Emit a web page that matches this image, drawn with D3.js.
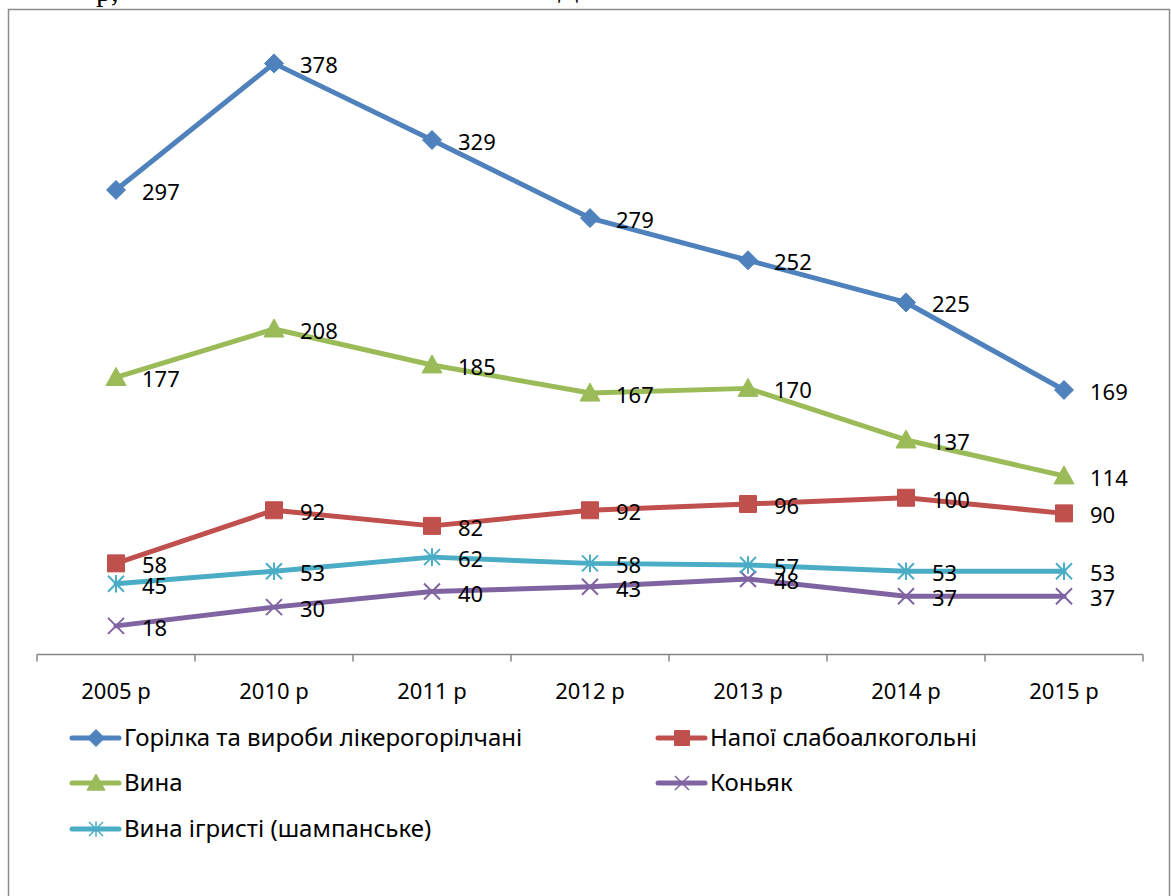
<!DOCTYPE html>
<html>
<head>
<meta charset="utf-8">
<script src="https://cdn.jsdelivr.net/npm/d3@7/dist/d3.min.js"></script>
<style>
  html, body { margin: 0; padding: 0; background: #fff; }
  svg { display: block; }
  text { font-family: "Noto Sans", "DejaVu Sans", sans-serif; fill: #000; }
</style>
</head>
<body>
<svg id="chart" width="1171" height="896"></svg>
<script>
// Categories (years) and series values
const years = ["2005 р", "2010 р", "2011 р", "2012 р", "2013 р", "2014 р", "2015 р"];
const vodka = [297, 378, 329, 279, 252, 225, 169];
const lowAlcohol = [58, 92, 82, 92, 96, 100, 90];
const wine = [177, 208, 185, 167, 170, 137, 114];
const cognac = [18, 30, 40, 43, 48, 37, 37];
const sparkling = [45, 53, 62, 58, 57, 53, 53];

const seriesNames = [
  "Горілка та вироби лікерогорілчані",
  "Напої слабоалкогольні",
  "Вина",
  "Коньяк",
  "Вина ігристі (шампанське)"
];

const series = [
  { name: seriesNames[0], values: vodka, color: "#4F81BD", marker: "diamond" },
  { name: seriesNames[1], values: lowAlcohol, color: "#C0504D", marker: "square" },
  { name: seriesNames[2], values: wine, color: "#9BBB59", marker: "triangle" },
  { name: seriesNames[3], values: cognac, color: "#8064A2", marker: "x" },
  { name: seriesNames[4], values: sparkling, color: "#4BACC6", marker: "star" }
];

const svg = d3.select("#chart");

// clipped line of document text above the chart frame
svg.append("text").attr("x", 96).attr("y", 1)
  .style("font-family", "'Liberation Serif', serif").style("font-size", "30px")
  .text("р,");
svg.append("text").attr("x", 558).attr("y", -3)
  .style("font-family", "'Liberation Serif', serif").style("font-size", "30px")
  .text("Д");

// outer frame
svg.append("rect").attr("x", 8.5).attr("y", 9.5).attr("width", 1161).attr("height", 900)
  .attr("fill", "none").attr("stroke", "#8c8c8c").attr("stroke-width", 1.5);

const x = d3.scaleBand().domain(years).range([37, 1143]).paddingInner(0).paddingOuter(0);
const y = d3.scaleLinear().domain([0, 400]).range([654, 29]);
const cx = d => x(d) + x.bandwidth() / 2;

// category axis
const axisG = svg.append("g").attr("transform", "translate(0,654.5)");
axisG.append("line").attr("x1", 37).attr("x2", 1143).attr("stroke", "#868686").attr("stroke-width", 1.5);
const tickXs = years.map(d => x(d)).concat([1143]);
axisG.selectAll("line.tick").data(tickXs).enter().append("line")
  .attr("class", "tick")
  .attr("x1", d => d).attr("x2", d => d).attr("y1", 0).attr("y2", 7)
  .attr("stroke", "#868686").attr("stroke-width", 1.5);
axisG.selectAll("text.cat").data(years).enter().append("text")
  .attr("class", "cat")
  .attr("x", d => cx(d)).attr("y", 44)
  .attr("text-anchor", "middle").style("font-size", "22px")
  .text(d => d);

function markerPath(type, s) {
  const h = s / 2;
  switch (type) {
    case "diamond": return `M0,${-h}L${h},0L0,${h}L${-h},0Z`;
    case "square": return `M${-h},${-h}H${h}V${h}H${-h}Z`;
    case "triangle": return `M0,${-h}L${h},${h * 0.8}L${-h},${h * 0.8}Z`;
    case "x": return `M${-h},${-h}L${h},${h}M${-h},${h}L${h},${-h}`;
    case "star": return `M${-h},${-h}L${h},${h}M${-h},${h}L${h},${-h}M0,${-h * 1.1}V${h * 1.1}`;
  }
}
const markerSize = { diamond: 19, square: 17, triangle: 20, x: 16, star: 16 };
const stroked = t => t === "x" || t === "star";

const line = d3.line().x((d, i) => cx(years[i])).y(d => y(d));

// lines
series.forEach(s => {
  svg.append("path").datum(s.values)
    .attr("d", line).attr("fill", "none")
    .attr("stroke", s.color).attr("stroke-width", 5)
    .attr("stroke-linejoin", "round").attr("stroke-linecap", "round");
});

// markers
series.forEach(s => {
  svg.append("g").selectAll("path").data(s.values).enter().append("path")
    .attr("transform", (d, i) => `translate(${cx(years[i])},${y(d)})`)
    .attr("d", markerPath(s.marker, markerSize[s.marker]))
    .attr("fill", stroked(s.marker) ? "none" : s.color)
    .attr("stroke", s.color)
    .attr("stroke-width", stroked(s.marker) ? 2 : 1);
});

// data labels
series.forEach(s => {
  svg.append("g").selectAll("text").data(s.values).enter().append("text")
    .attr("x", (d, i) => cx(years[i]) + 26)
    .attr("y", d => y(d) + 10)
    .style("font-size", "22px")
    .text(d => d);
});

// legend
const legendItems = [
  { s: series[0], lx: 72, ly: 738 },
  { s: series[1], lx: 658, ly: 738 },
  { s: series[2], lx: 72, ly: 783 },
  { s: series[3], lx: 658, ly: 783 },
  { s: series[4], lx: 72, ly: 829 }
];
const lg = svg.append("g");
legendItems.forEach(it => {
  const g = lg.append("g").attr("transform", `translate(${it.lx},${it.ly})`);
  g.append("line").attr("x1", 0).attr("x2", 47)
    .attr("stroke", it.s.color).attr("stroke-width", 5).attr("stroke-linecap", "round");
  g.append("path").attr("transform", "translate(24,0)")
    .attr("d", markerPath(it.s.marker, markerSize[it.s.marker] - 2))
    .attr("fill", stroked(it.s.marker) ? "none" : it.s.color)
    .attr("stroke", it.s.color)
    .attr("stroke-width", stroked(it.s.marker) ? 1.5 : 1);
  g.append("text").attr("x", 52).attr("y", 8).style("font-size", "24px").text(it.s.name);
});
</script>
</body>
</html>
